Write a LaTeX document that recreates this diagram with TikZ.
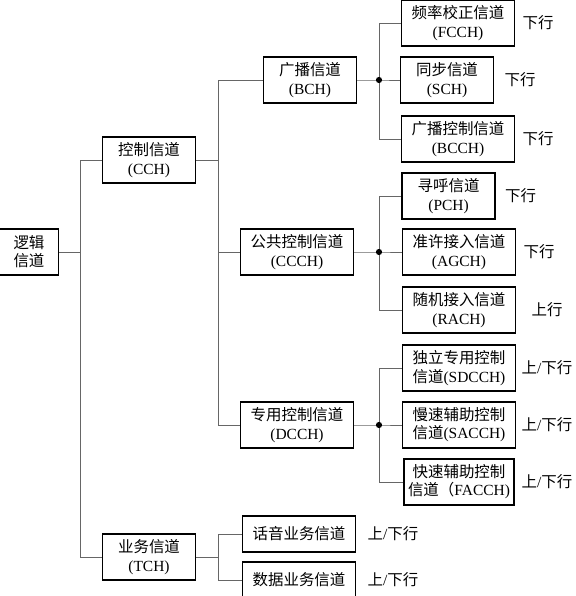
\documentclass[tikz,border=0pt]{standalone}
\usepackage{fontspec}
\setmainfont{Liberation Serif}
\newfontfamily\cjk{Noto Sans CJK SC}
\usetikzlibrary{positioning}

\begin{document}
\begin{tikzpicture}[
    on grid,
    chbox/.style={draw,line width=1.2pt,align=center,minimum width=2.33cm,minimum height=1.15cm,inner xsep=0.25cm,inner ysep=1pt,font=\fontsize{11}{13}\selectfont},
    onebox/.style={chbox,minimum height=0.9cm},
    dirtext/.style={inner sep=0pt,font=\fontsize{11}{13}\selectfont},
    conn/.style={draw=black!60,line width=0.6pt}
]
    \useasboundingbox (-0.725,6.3) rectangle (13.65,-8.6);
    %Root Layer
    \node[chbox,minimum width=1.475cm,inner xsep=2pt] (root) {{\cjk 逻辑}\\{\cjk 信道}};
    \node[chbox,above right=2.3cm and 3cm of root] (CCH) {{\cjk 控制信道}\\(CCH)};
    \node[chbox,below right=7.625cm and 3cm of root] (TCH) {{\cjk 业务信道}\\(TCH)};
    \coordinate[right=1.275cm of root] (root-j);
    \draw[conn] (root) -- (root-j) |- (CCH) (root-j) |- (TCH);
    %Control channels
    \node[chbox,above right=2cm and 4.025cm of CCH] (BCH) {{\cjk 广播信道}\\(BCH)};
    \node[chbox,below right=2.3cm and 3.7cm of CCH] (CCCH) {{\cjk 公共控制信道}\\(CCCH)};
    \node[chbox,below right=6.625cm and 3.7cm of CCH] (DCCH) {{\cjk 专用控制信道}\\(DCCH)};
    \coordinate[right=1.725cm of CCH] (CCH-j);
    \draw[conn] (CCH) -- (CCH-j) |- (BCH) (CCH-j) |- (CCCH) (CCH-j) |- (DCCH);
    %BCH ---------
    \coordinate[right=1.725cm of BCH] (BCH-j);
    \node[chbox,above right=1.425cm and 3.7cm of BCH] (FCCH) {{\cjk 频率校正信道}\\(FCCH)};
    \node[chbox,right=3.425cm of BCH] (SCH) {{\cjk 同步信道}\\(SCH)};
    \node[chbox,below right=1.475cm and 3.7cm of BCH] (BCCH) {{\cjk 广播控制信道}\\(BCCH)};
    \draw[conn] (BCH) -- (BCH-j) -- (SCH) (BCH-j) |- (FCCH) (BCH-j) |- (BCCH);
    \fill (BCH-j) circle (2.2pt);
    \node[dirtext,right=2cm of FCCH] (FCCH-d) {\cjk 下行};
    \node[dirtext,right=1.825cm of SCH] (SCH-d) {\cjk 下行};
    \node[dirtext,right=2cm of BCCH] (BCCH-d) {\cjk 下行};
    %CCCH ---------
    \coordinate[right=2.05cm of CCCH] (CCCH-j);
    \node[chbox,above right=1.4cm and 3.79cm of CCCH] (PCH) {{\cjk 寻呼信道}\\(PCH)};
    \node[chbox,right=4.05cm of CCCH] (AGCH) {{\cjk 准许接入信道}\\(AGCH)};
    \node[chbox,below right=1.45cm and 4.05cm of CCCH] (RACH) {{\cjk 随机接入信道}\\(RACH)};
    \draw[conn] (CCCH) -- (CCCH-j) -- (AGCH) (CCCH-j) |- (PCH) (CCCH-j) |- (RACH);
    \fill (CCCH-j) circle (2.2pt);
    \node[dirtext,right=1.8cm of PCH] (PCH-d) {\cjk 下行};
    \node[dirtext,right=2cm of AGCH] (AGCH-d) {\cjk 下行};
    \node[dirtext,right=2.2cm of RACH] (RACH-d) {\cjk 上行};
    %DCCH ---------
    \coordinate[right=2.05cm of DCCH] (DCCH-j);
    \node[chbox,above right=1.425cm and 4.05cm of DCCH] (SDCCH) {{\cjk 独立专用控制}\\{\cjk 信道}(SDCCH)};
    \node[chbox,right=4.05cm of DCCH] (SACCH) {{\cjk 慢速辅助控制}\\{\cjk 信道}(SACCH)};
    \node[chbox,inner xsep=0.1cm,below right=1.425cm and 4.05cm of DCCH] (FACCH) {{\cjk 快速辅助控制}\\{\cjk 信道（}FACCH)};
    \draw[conn] (DCCH) -- (DCCH-j) -- (SACCH) (DCCH-j) |- (SDCCH) (DCCH-j) |- (FACCH);
    \fill (DCCH-j) circle (2.2pt);
    \node[dirtext,right=2.2cm of SDCCH] (SDCCH-d) {{\cjk 上}/{\cjk 下行}};
    \node[dirtext,right=2.2cm of SACCH] (SACCH-d) {{\cjk 上}/{\cjk 下行}};
    \node[dirtext,right=2.2cm of FACCH] (FACCH-d) {{\cjk 上}/{\cjk 下行}};
    %Traffic channels
    \node[onebox,above right=0.575cm and 3.75cm of TCH] (TCH-V) {\cjk 话音业务信道};
    \node[onebox,below right=0.575cm and 3.75cm of TCH] (TCH-D) {\cjk 数据业务信道};
    \coordinate[right=1.725cm of TCH] (TCH-j);
    \draw[conn] (TCH) -- (TCH-j) |- (TCH-V) (TCH-j) |- (TCH-D);
    \node[dirtext,right=2.35cm of TCH-V] (TCH-V-d) {{\cjk 上}/{\cjk 下行}};
    \node[dirtext,right=2.35cm of TCH-D] (TCH-D-d) {{\cjk 上}/{\cjk 下行}};
\end{tikzpicture}
\end{document}
